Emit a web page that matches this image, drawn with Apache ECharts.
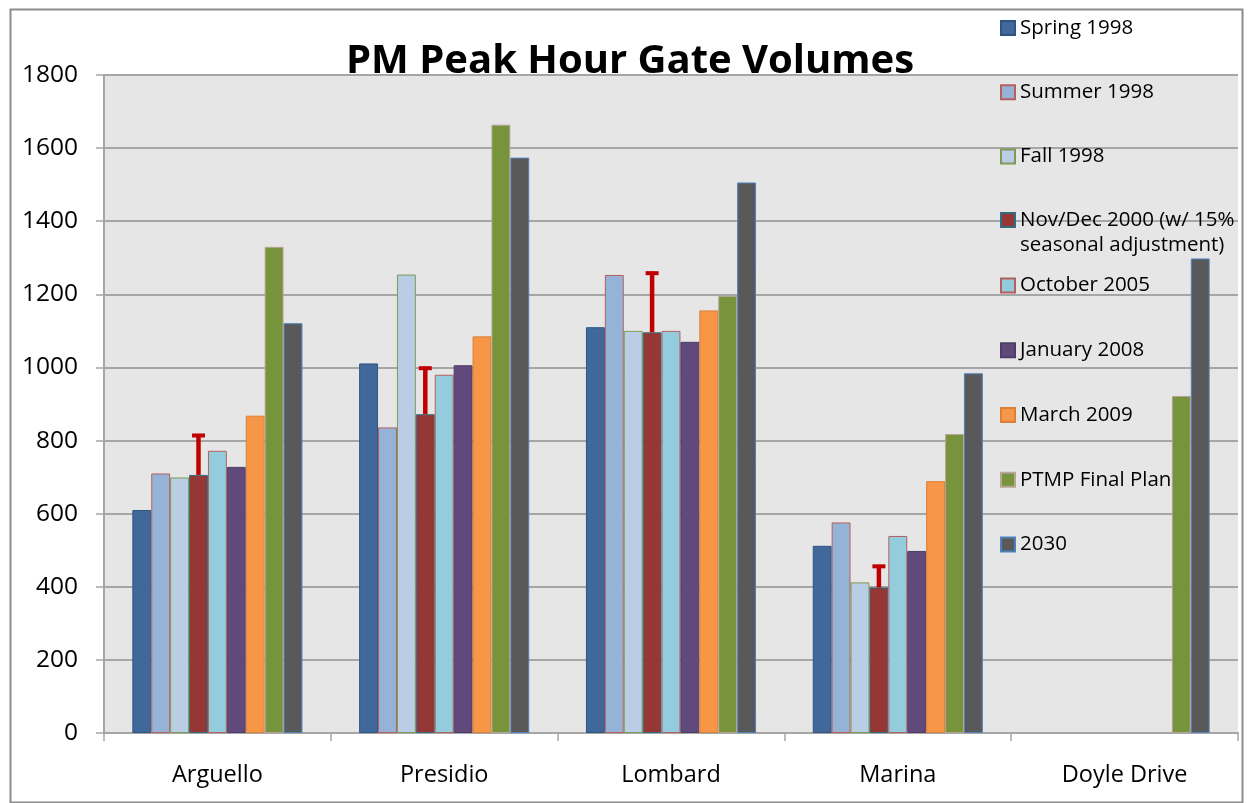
<!DOCTYPE html>
<html>
<head>
<meta charset="utf-8">
<script src="https://cdn.jsdelivr.net/npm/echarts@6/dist/echarts.min.js"></script>
<style>
  html, body { margin: 0; padding: 0; background: #ffffff; }
  #chart { width: 1249px; height: 803px; }
</style>
</head>
<body>
<div id="chart"></div>
<script>
// ---- Data ----
const categories = ['Arguello', 'Presidio', 'Lombard', 'Marina', 'Doyle Drive'];
const seriesNames = ['Spring 1998', 'Summer 1998', 'Fall 1998',
  'Nov/Dec 2000 (w/ 15% seasonal adjustment)', 'October 2005', 'January 2008',
  'March 2009', 'PTMP Final Plan', '2030'];
const spring1998 = [610, 1011, 1110, 512, null];
const summer1998 = [710, 836, 1253, 576, null];
const fall1998   = [699, 1254, 1100, 412, null];
const novDec2000 = [706, 872, 1096, 398, null];
const novDec2000Err = [112, 130, 166, 62, null];
const october2005 = [772, 980, 1100, 539, null];
const january2008 = [728, 1006, 1070, 498, null];
const march2009  = [868, 1085, 1156, 689, null];
const ptmpFinal  = [1330, 1664, 1196, 818, 922];
const year2030   = [1121, 1574, 1506, 984, 1298];
const yTicks = { min: 0, max: 1800, interval: 200 };

const seriesValues = [spring1998, summer1998, fall1998, novDec2000, october2005,
  january2008, march2009, ptmpFinal, year2030];
const fillColors = ['#41689A', '#95B3D7', '#B9CDE5', '#953735', '#93CDDD',
  '#604A7B', '#F79646', '#77933C', '#595959'];
const borderColors = ['#2E5480', '#B65F5E', '#7F9A55', '#2F6E80', '#B65F5E',
  '#4E3C66', '#D9803A', '#B8A596', '#4F81BD'];

const FONT = 'Open Sans';
const CAT_GAP = 0.25;
const N = seriesNames.length;

const series = seriesValues.map((vals, i) => ({
  name: seriesNames[i],
  type: 'bar',
  data: vals,
  barGap: '0%',
  barCategoryGap: (CAT_GAP * 100) + '%',
  itemStyle: { color: fillColors[i], borderColor: borderColors[i], borderWidth: 1 },
  emphasis: { disabled: true },
  z: 2
}));

const errData = novDec2000.map((v, i) => [i, v, novDec2000Err[i]]).filter(d => d[1] != null);
series.push({
  name: 'errorbars',
  type: 'custom',
  data: errData,
  encode: { x: 0, y: 1 },
  z: 5,
  silent: true,
  renderItem: function (params, api) {
    const idx = api.value(0);
    const val = api.value(1);
    const err = api.value(2);
    const base = api.coord([idx, val]);
    const topP = api.coord([idx, val + err]);
    const band = api.size([1, 0])[0];
    const groupW = band * (1 - CAT_GAP);
    const barW = groupW / N;
    const x = base[0] - groupW / 2 + 3.5 * barW;
    return {
      type: 'group',
      children: [
        { type: 'line', shape: { x1: x, y1: base[1], x2: x, y2: topP[1] }, style: { stroke: '#C00000', lineWidth: 4.5 } },
        { type: 'line', shape: { x1: x - 6.5, y1: topP[1] + 1.5, x2: x + 6.5, y2: topP[1] + 1.5 }, style: { stroke: '#C00000', lineWidth: 4 } }
      ]
    };
  }
});

const LEG_FS = 20.5;
const legendBase = {
  orient: 'vertical',
  left: 1000,
  padding: 0,
  itemWidth: 14,
  itemHeight: 14,
  icon: 'rect',
  selectedMode: false,
  textStyle: { fontFamily: FONT, fontSize: LEG_FS, color: '#000000', lineHeight: 25 }
};

const chart = echarts.init(document.getElementById('chart'), null, { renderer: 'canvas' });
chart.setOption({
  backgroundColor: '#ffffff',
  animation: false,
  textStyle: { fontFamily: FONT },
  title: {
    text: 'PM Peak Hour Gate Volumes',
    left: 341,
    top: 37,
    textStyle: { fontFamily: FONT, fontWeight: 'bold', fontSize: 40, color: '#000000' }
  },
  legend: [
    Object.assign({}, legendBase, { data: seriesNames.slice(0, 3), top: 15.5, itemGap: 39.25 }),
    Object.assign({}, legendBase, {
      data: [seriesNames[3]], top: 182.5,
      formatter: function (name) { return '\n' + name.replace('15% ', '15%\n'); }
    }),
    Object.assign({}, legendBase, { data: seriesNames.slice(4), top: 273, itemGap: 39.75 })
  ],
  grid: {
    left: 104, right: 11, top: 75, bottom: 70,
    show: true, backgroundColor: '#E6E6E6', borderWidth: 0
  },
  xAxis: {
    type: 'category',
    data: categories,
    axisLine: { lineStyle: { color: '#A6A6A6', width: 2 } },
    axisTick: { show: true, length: 8, lineStyle: { color: '#A6A6A6', width: 1.5 } },
    axisLabel: { fontFamily: FONT, fontSize: 23.5, color: '#000000', margin: 30, interval: 0 },
    splitLine: { show: false }
  },
  yAxis: {
    type: 'value',
    min: yTicks.min, max: yTicks.max, interval: yTicks.interval,
    axisLine: { show: true, lineStyle: { color: '#A6A6A6', width: 2 } },
    axisTick: { show: true, length: 8, lineStyle: { color: '#A6A6A6', width: 1.5 } },
    axisLabel: { fontFamily: FONT, fontSize: 24.5, color: '#000000', margin: 26, formatter: function (v) { return String(v); } },
    splitLine: { show: true, lineStyle: { color: '#A6A6A6', width: 2 } }
  },
  graphic: [{
    type: 'rect',
    left: 8, top: 7,
    shape: { width: 1232, height: 793 },
    style: { fill: 'none', stroke: '#8C8C8C', lineWidth: 2 },
    z: 100, silent: true
  }],
  series: series
});
</script>
</body>
</html>
